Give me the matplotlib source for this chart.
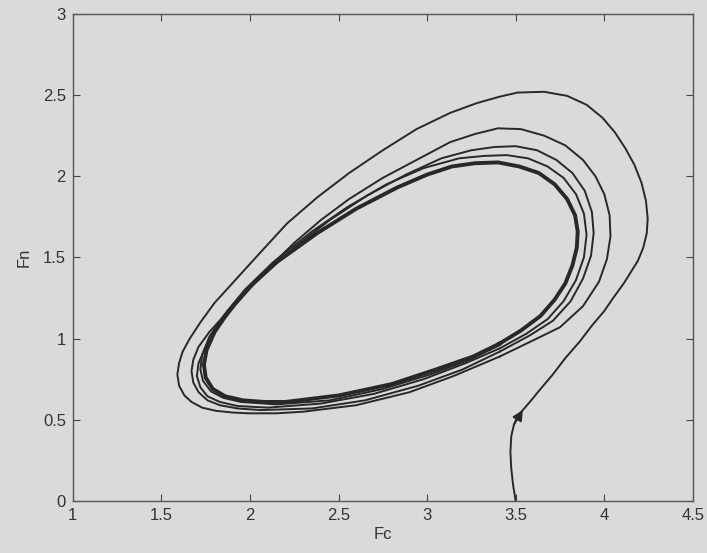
import matplotlib
matplotlib.use('Agg')
import matplotlib.pyplot as plt

# ---- data ----
fc_loop1 = [3.50, 3.485, 3.475, 3.47, 3.475, 3.49, 3.51, 3.54, 3.58, 3.64, 3.71, 3.78, 3.86,
            3.93, 4.00, 4.05, 4.11, 4.15, 4.19, 4.22, 4.24, 4.245, 4.235, 4.21, 4.17, 4.12,
            4.06, 3.99, 3.90, 3.79, 3.66, 3.51, 3.41, 3.28, 3.13, 2.94, 2.75, 2.56, 2.38,
            2.21, 2.05, 1.90, 1.80, 1.72, 1.66, 1.62, 1.60, 1.59, 1.60, 1.63, 1.67, 1.73,
            1.81, 1.90, 1.99, 2.15, 2.30, 2.60, 2.90, 3.15, 3.41]
fn_loop1 = [0.00, 0.10, 0.20, 0.30, 0.40, 0.47, 0.52, 0.56, 0.61, 0.69, 0.78, 0.88, 0.98,
            1.08, 1.17, 1.25, 1.34, 1.41, 1.48, 1.56, 1.65, 1.74, 1.85, 1.96, 2.07, 2.17,
            2.27, 2.36, 2.44, 2.495, 2.52, 2.515, 2.49, 2.45, 2.39, 2.29, 2.16, 2.02, 1.87,
            1.71, 1.52, 1.34, 1.22, 1.10, 1.00, 0.92, 0.85, 0.78, 0.71, 0.65, 0.61, 0.575,
            0.555, 0.545, 0.54, 0.54, 0.55, 0.59, 0.67, 0.77, 0.89]

fc_loop2 = [3.41, 3.60, 3.75, 3.88, 3.97, 4.015, 4.035, 4.03, 4.00, 3.95, 3.88, 3.78, 3.66,
            3.53, 3.40, 3.27, 3.13, 2.94, 2.75, 2.56, 2.40, 2.25, 2.11, 1.99, 1.87, 1.77,
            1.71, 1.68, 1.67, 1.68, 1.71, 1.76, 1.83, 1.93, 2.06, 2.35, 2.65, 2.95, 3.20,
            3.41]
fn_loop2 = [0.89, 0.99, 1.07, 1.20, 1.35, 1.49, 1.63, 1.76, 1.89, 2.00, 2.10, 2.19, 2.25,
            2.29, 2.295, 2.26, 2.21, 2.10, 1.99, 1.86, 1.73, 1.59, 1.44, 1.30, 1.16, 1.04,
            0.95, 0.87, 0.80, 0.73, 0.67, 0.62, 0.59, 0.57, 0.56, 0.57, 0.62, 0.71, 0.81,
            0.92]

fc_loop3 = [3.41, 3.58, 3.71, 3.81, 3.88, 3.925, 3.94, 3.93, 3.89, 3.82, 3.73, 3.62, 3.50,
            3.38, 3.25, 3.08, 2.88, 2.66, 2.45, 2.25, 2.05, 1.92, 1.82, 1.75, 1.71, 1.70,
            1.72, 1.76, 1.83, 1.93, 2.10, 2.40, 2.70, 2.98, 3.22, 3.41]
fn_loop3 = [0.92, 1.02, 1.11, 1.23, 1.37, 1.51, 1.65, 1.78, 1.91, 2.02, 2.10, 2.16, 2.185,
            2.18, 2.16, 2.11, 2.01, 1.88, 1.73, 1.56, 1.37, 1.21, 1.07, 0.95, 0.85, 0.77,
            0.70, 0.645, 0.61, 0.585, 0.575, 0.60, 0.66, 0.75, 0.85, 0.94]

fc_loop4 = [3.41, 3.56, 3.68, 3.77, 3.84, 3.885, 3.90, 3.885, 3.84, 3.77, 3.68, 3.57, 3.45,
            3.32, 3.18, 2.98, 2.77, 2.55, 2.35, 2.13, 1.97, 1.85, 1.77, 1.73, 1.72, 1.735,
            1.78, 1.85, 1.95, 2.15, 2.45, 2.75, 3.02, 3.24, 3.41]
fn_loop4 = [0.94, 1.03, 1.12, 1.23, 1.36, 1.50, 1.64, 1.77, 1.89, 1.99, 2.06, 2.11, 2.13,
            2.125, 2.11, 2.05, 1.95, 1.81, 1.66, 1.47, 1.30, 1.14, 1.01, 0.90, 0.81, 0.74,
            0.675, 0.635, 0.61, 0.595, 0.62, 0.69, 0.78, 0.87, 0.96]

fc_limit = [3.41, 3.53, 3.64, 3.72, 3.78, 3.82, 3.845, 3.85, 3.835, 3.79, 3.72, 3.63, 3.52,
            3.40, 3.27, 3.14, 3.00, 2.83, 2.60, 2.38, 2.15, 1.99, 1.88, 1.80, 1.755, 1.74,
            1.75, 1.79, 1.86, 1.96, 2.08, 2.20, 2.50, 2.80, 3.05, 3.26, 3.41]
fn_limit = [0.97, 1.05, 1.14, 1.24, 1.34, 1.45, 1.56, 1.66, 1.76, 1.86, 1.95, 2.02, 2.06,
            2.085, 2.08, 2.06, 2.01, 1.93, 1.80, 1.65, 1.47, 1.31, 1.17, 1.04, 0.93, 0.84,
            0.76, 0.69, 0.645, 0.62, 0.61, 0.61, 0.65, 0.72, 0.81, 0.89, 0.97]

x_ticks = [1, 1.5, 2, 2.5, 3, 3.5, 4, 4.5]
x_ticklabels = ['1', '1.5', '2', '2.5', '3', '3.5', '4', '4.5']
y_ticks = [0, 0.5, 1, 1.5, 2, 2.5, 3]
y_ticklabels = ['0', '0.5', '1', '1.5', '2', '2.5', '3']

# ---- figure ----
plt.rcParams['font.family'] = ['Liberation Sans', 'DejaVu Sans']
bg = '#dadada'
line_c = '#282828'

fig = plt.figure(figsize=(7.07, 5.53), dpi=100, facecolor=bg)
ax = fig.add_axes([0.103, 0.094, 0.877, 0.881], facecolor=bg)

for fc, fn in [(fc_loop1, fn_loop1), (fc_loop2, fn_loop2),
               (fc_loop3, fn_loop3), (fc_loop4, fn_loop4)]:
    ax.plot(fc, fn, color=line_c, lw=1.4, solid_joinstyle='round')
ax.plot(fc_limit, fn_limit, color=line_c, lw=2.8, solid_joinstyle='round')

ax.annotate('', xy=(fc_loop1[7], fn_loop1[7]), xytext=(fc_loop1[5], fn_loop1[5]),
            arrowprops=dict(arrowstyle='-|>', color=line_c, lw=1.2,
                            mutation_scale=16, shrinkA=0, shrinkB=0))

ax.set_xlim(1, 4.5)
ax.set_ylim(0, 3)
ax.set_xticks(x_ticks)
ax.set_xticklabels(x_ticklabels)
ax.set_yticks(y_ticks)
ax.set_yticklabels(y_ticklabels)
ax.tick_params(direction='in', top=True, right=True, length=5, width=0.8,
               labelsize=12, colors='#444444', labelcolor='#333333', pad=5)
for s in ax.spines.values():
    s.set_color('#555555')
    s.set_linewidth(1.0)

ax.set_xlabel('Fc', fontsize=12, color='#333333', labelpad=3)
ax.set_ylabel('Fn', fontsize=12, color='#333333', labelpad=8)

fig.savefig('out.png', dpi=100, facecolor=bg)
